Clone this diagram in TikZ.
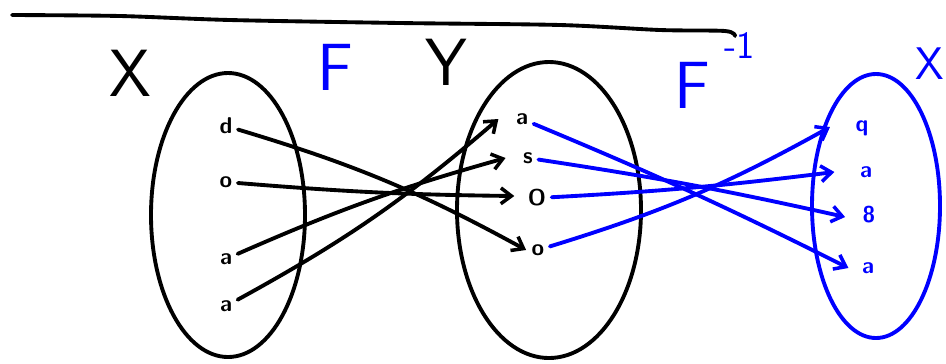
\documentclass[tikz,border=0pt]{standalone}
\usepackage{tikz}
\usetikzlibrary{arrows.meta, positioning, calc}
\colorlet{MAPblack}{black}
\colorlet{MAPblue}{blue}

\begin{document}
\begin{tikzpicture}[x=0.02cm, y=-0.02cm,
    pen/.style={line width=2.2pt, line cap=round, line join=round},
    elem/.style={inner sep=3pt, font=\sffamily\bfseries\fontsize{13}{13}\selectfont},
    setname/.style={font=\sffamily\fontsize{38}{38}\selectfont},
    fmap/.style={pen, MAPblack, -{Straight Barb[length=6pt, width=9pt, line width=2pt]}},
    ginv/.style={pen, MAPblue, -{Straight Barb[length=6pt, width=9pt, line width=2pt]}}]
        \useasboundingbox (0,0) rectangle (946,363);
        % heading line
        \draw[pen] plot[smooth] coordinates {(12,15) (120,16) (230,20) (400,23) (560,25) (660,30) (725,31) (735,36)};
        % set names
        \node[setname] (xleft) at (130,73) {X};
        \node[setname, MAPblue] (fname) at (335,67) {F};
        \node[setname] (yname) at (446,62) {Y};
        \node[setname, MAPblue] (finv) at (692,85) {F};
        \node[MAPblue, font=\sffamily\fontsize{22}{22}\selectfont] (finvexp) at (740,46) {-1};
        \node[MAPblue, font=\sffamily\fontsize{26}{26}\selectfont] (xright) at (930,64) {X};
        % sets
        \draw[pen] (228,215) ellipse (77 and 142);
        \draw[pen] (549,210) ellipse (92 and 148);
        \draw[pen, MAPblue] (876,206) ellipse (64 and 132);
        % elements
        \node[elem] (l1) at (226,126) {d};
        \node[elem] (l2) at (226,182) {o};
        \node[elem] (l3) at (226,259) {a};
        \node[elem] (l4) at (226,306) {a};
        \node[elem] (m1) at (522,119) {a};
        \node[elem] (m2) at (528,158) {s};
        \node[elem] (m3) at (537,198) {O};
        \node[elem] (m4) at (538,250) {o};
        \node[elem, MAPblue] (r1) at (862,128) {q};
        \node[elem, MAPblue] (r2) at (866,172) {a};
        \node[elem, MAPblue] (r3) at (869,215) {8};
        \node[elem, MAPblue] (r4) at (868,268) {a};
        % F
        \draw[fmap] (l1) to[bend left=6] (m4.west);
        \draw[fmap] (l2) to[bend right=2] ($(m3.west)+(-8,-2)$);
        \draw[fmap] (l3) to[bend left=4] ($(m2.west)+(-12,0)$);
        \draw[fmap] (l4) to[bend right=6] ($(m1.west)+(-12,0)$);
        % F^-1
        \draw[ginv] (m1) to[bend left=2] ($(r4.west)+(-8,0)$);
        \draw[ginv] (m2) to[bend left=2] ($(r3.west)+(-12,2)$);
        \draw[ginv] (m3) to[bend right=2] ($(r2.west)+(-20,0)$);
        \draw[ginv] (m4) to[bend right=6] ($(r1.west)+(-20,-1)$);
      \end{tikzpicture}
\end{document}
